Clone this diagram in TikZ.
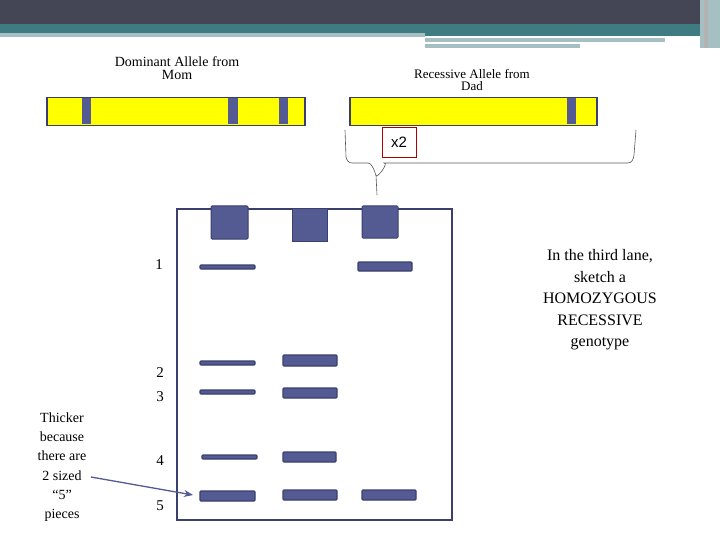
\documentclass[tikz,border=0pt]{standalone}
\usepackage{fontspec}
\setmainfont{Liberation Serif}
\newfontfamily\sansf{Liberation Sans}
\usetikzlibrary{arrows.meta}
\begin{document}
\begin{tikzpicture}[x=1pt,y=-1pt,
  band/.style={fill=bandblue,draw=bandedge,line width=1.2pt,rounded corners=1pt},
  well/.style={fill=bandblue,draw=bandedge,line width=1pt},
  lbl/.style={font=\fontsize{14}{16}\selectfont,align=center},
  num/.style={font=\fontsize{15}{17}\selectfont}]
\definecolor{bandblue}{HTML}{545A92}
\definecolor{bandedge}{HTML}{3A3F6E}
\definecolor{topdark}{HTML}{444656}
\definecolor{teal}{HTML}{3E7C82}
\definecolor{lteal}{HTML}{A5BFC2}
\definecolor{chrom}{HTML}{FFFF00}
\useasboundingbox (0,0) rectangle (720,540);
\fill[white] (0,0) rectangle (720,540);
% header
\fill[topdark] (0,0) rectangle (720,24);
\fill[teal] (0,24) rectangle (700,33);
\fill[lteal] (0,33) rectangle (425,37);
\fill[teal] (425,33) rectangle (700,36);
\fill[lteal] (425,38) rectangle (665,42);
\fill[lteal] (425,44) rectangle (580,48);
\fill[lteal] (700,0) rectangle (720,48);
\fill[gray!60] (704,0) rectangle (708,48);
% chromosomes
\node[draw=bandedge,line width=1.5pt,fill=chrom,minimum width=258,minimum height=28,inner sep=0,anchor=north west] (mom) at (46,97) {};
\foreach \a/\b in {82/91,228/238,279/288} \fill[bandblue] (\a,98) rectangle (\b,124);
\node[draw=bandedge,line width=1.5pt,fill=chrom,minimum width=247,minimum height=28,inner sep=0,anchor=north west] (dad) at (349,97) {};
\fill[bandblue] (567,98) rectangle (576,124);
\node[lbl] (tm) at (177,68) {Dominant Allele from\\[-3pt]Mom};
\node[lbl,font=\fontsize{13}{15}\selectfont] (td) at (472,80) {Recessive Allele from\\[-3pt]Dad};
\node[draw=red!70!black,minimum width=34,minimum height=30,inner sep=0,font=\sansf\fontsize{15}{17}\selectfont] (x2) at (399,142) {x2};
% brace
\draw[gray!70!black,line width=0.6pt] (345,130) -- (346,157) to[out=-80,in=180] (352,163) -- (368,163) to[out=0,in=-80] (376,175) -- (377,195);
\draw[gray!70!black,line width=0.6pt] (376,175) to[out=-100,in=0] (384,163) -- (628,163) to[out=0,in=-95] (634,155) -- (636,130);
% gel
\node[draw=bandedge,line width=2pt,minimum width=275,minimum height=311,inner sep=0,anchor=north west] (gel) at (176,208) {};
\draw[well,rounded corners=1pt] (211,206) rectangle (248,239);
\draw[well] (292,209) rectangle (327,241);
\draw[well,rounded corners=1pt] (362,206) rectangle (398,238);
% bands
\draw[band] (200,265) rectangle (255,269);
\draw[band] (358,262) rectangle (412,271);
\draw[band] (200,361) rectangle (255,365);
\draw[band] (283,355) rectangle (337,366);
\draw[band] (200,390) rectangle (255,394);
\draw[band] (283,388) rectangle (337,398);
\draw[band] (202,455) rectangle (257,459);
\draw[band] (283,452) rectangle (336,462);
\draw[band] (200,491) rectangle (255,501);
\draw[band] (283,490) rectangle (337,500);
\draw[band] (362,490) rectangle (416,500);
% numbers
\node[num] (n1) at (159,265) {1};
\node[num] (n2) at (160,373) {2};
\node[num] (n3) at (160,397) {3};
\node[num] (n4) at (160,461) {4};
\node[num] (n5) at (160,506) {5};
% left note
\node[lbl,font=\fontsize{14}{19.3}\selectfont] (note) at (62,467) {Thicker\\because\\there are\\2 sized\\``5''\\pieces};
\coordinate (nstart) at (91,477);
\coordinate (nend) at (193,495);
\draw[bandblue,line width=1.3pt,-{Stealth[length=9pt,width=7pt]}] (nstart) -- (nend);
% right text
\node[lbl,font=\fontsize{16}{21.5}\selectfont] (rt) at (600,300) {In the third lane,\\sketch a\\HOMOZYGOUS\\RECESSIVE\\genotype};
\end{tikzpicture}
\end{document}
